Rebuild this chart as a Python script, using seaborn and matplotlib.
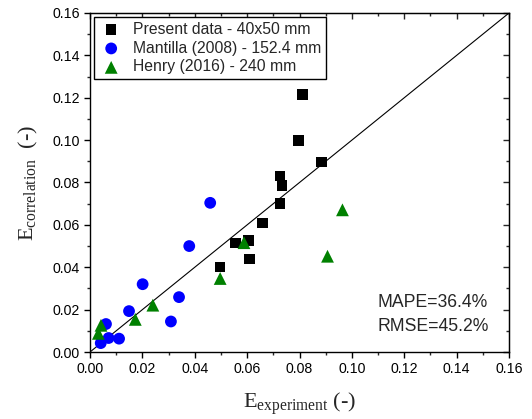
import matplotlib
matplotlib.use("Agg")
import matplotlib.pyplot as plt
import seaborn as sns
import pandas as pd
import numpy as np
from matplotlib.ticker import MultipleLocator, FormatStrFormatter

# ---- data ----
present_x = [0.0812, 0.0797, 0.0884, 0.0726, 0.0733, 0.0725, 0.0659, 0.0606, 0.0556, 0.0610, 0.0497]
present_y = [0.1214, 0.0998, 0.0896, 0.0830, 0.0787, 0.0700, 0.0609, 0.0527, 0.0514, 0.0438, 0.0401]

mantilla_x = [0.0459, 0.0379, 0.0201, 0.0340, 0.0149, 0.0309, 0.0061, 0.0111, 0.0071, 0.0041]
mantilla_y = [0.0704, 0.0500, 0.0320, 0.0259, 0.0193, 0.0144, 0.0132, 0.0063, 0.0066, 0.0042]

henry_x = [0.0964, 0.0907, 0.0588, 0.0497, 0.0240, 0.0173, 0.0042, 0.0032]
henry_y = [0.0671, 0.0452, 0.0516, 0.0347, 0.0221, 0.0154, 0.0126, 0.0088]

labels = ["Present data - 40x50 mm", "Mantilla (2008) - 152.4 mm", "Henry (2016) - 240 mm"]
stats_text = ["MAPE=36.4%", "RMSE=45.2%"]
axis_limits = [0.0, 0.16]

sns.set_style("ticks")
plt.rcParams["font.family"] = ["Liberation Sans", "DejaVu Sans"]
plt.rcParams["mathtext.fontset"] = "custom"
plt.rcParams["mathtext.rm"] = "Liberation Serif"
plt.rcParams["mathtext.it"] = "Liberation Serif:italic"

fig = plt.figure(figsize=(5.32, 4.19), dpi=100)
ax = fig.add_axes([90/532, 1-352/419, (509-90)/532, (352-13)/419])

df_p = pd.DataFrame({"x": present_x, "y": present_y})
df_m = pd.DataFrame({"x": mantilla_x, "y": mantilla_y})
df_h = pd.DataFrame({"x": henry_x, "y": henry_y})

ax.plot(axis_limits, axis_limits, color="black", lw=0.8, zorder=1)
sns.scatterplot(data=df_p, x="x", y="y", marker="s", s=58, color="black",
                edgecolor="none", label=labels[0], ax=ax, zorder=3)
sns.scatterplot(data=df_m, x="x", y="y", marker="o", s=72, color="#0000FF",
                edgecolor="none", label=labels[1], ax=ax, zorder=3)
sns.scatterplot(data=df_h, x="x", y="y", marker="^", s=85, color="#008000",
                edgecolor="none", label=labels[2], ax=ax, zorder=3)

ax.set_xlim(axis_limits)
ax.set_ylim(axis_limits)
ax.xaxis.set_major_locator(MultipleLocator(0.02))
ax.yaxis.set_major_locator(MultipleLocator(0.02))
ax.xaxis.set_minor_locator(MultipleLocator(0.01))
ax.yaxis.set_minor_locator(MultipleLocator(0.01))
ax.xaxis.set_major_formatter(FormatStrFormatter("%.2f"))
ax.yaxis.set_major_formatter(FormatStrFormatter("%.2f"))

for sp in ax.spines.values():
    sp.set_linewidth(1.0)
    sp.set_color("black")

ax.tick_params(which="major", direction="out", length=4.5, width=1.0, labelsize=10.2,
               colors="black", pad=3)
ax.tick_params(which="minor", direction="out", length=2.5, width=1.0)

# inward ticks on top and right
top = ax.secondary_xaxis("top")
top.xaxis.set_major_locator(MultipleLocator(0.02))
top.xaxis.set_minor_locator(MultipleLocator(0.01))
top.tick_params(which="major", direction="in", length=4.5, width=1.0, labeltop=False)
top.tick_params(which="minor", direction="in", length=2.5, width=1.0)
right = ax.secondary_yaxis("right")
right.yaxis.set_major_locator(MultipleLocator(0.02))
right.yaxis.set_minor_locator(MultipleLocator(0.01))
right.tick_params(which="major", direction="in", length=4.5, width=1.0, labelright=False)
right.tick_params(which="minor", direction="in", length=2.5, width=1.0)

ax.set_xlabel(r"E$_{\mathrm{experiment}}$ (-)", fontsize=16, family="Liberation Serif",
              labelpad=10)
ax.set_ylabel(r"E$_{\mathrm{correlation}}$  (-)", fontsize=16, family="Liberation Serif",
              labelpad=9)

leg = ax.legend(loc="upper left", bbox_to_anchor=(0.0, 1.0), borderaxespad=0.25,
                frameon=True, fancybox=False, edgecolor="black", fontsize=11.3,
                labelspacing=0.25, handletextpad=0.6, borderpad=0.3, handlelength=1.6)
leg.get_frame().set_linewidth(1.0)
leg.get_frame().set_alpha(1)

ax.text(0.687, 0.147, stats_text[0], transform=ax.transAxes, fontsize=12.7, va="center")
ax.text(0.687, 0.076, stats_text[1], transform=ax.transAxes, fontsize=12.7, va="center")

fig.savefig("out.png", dpi=100)
